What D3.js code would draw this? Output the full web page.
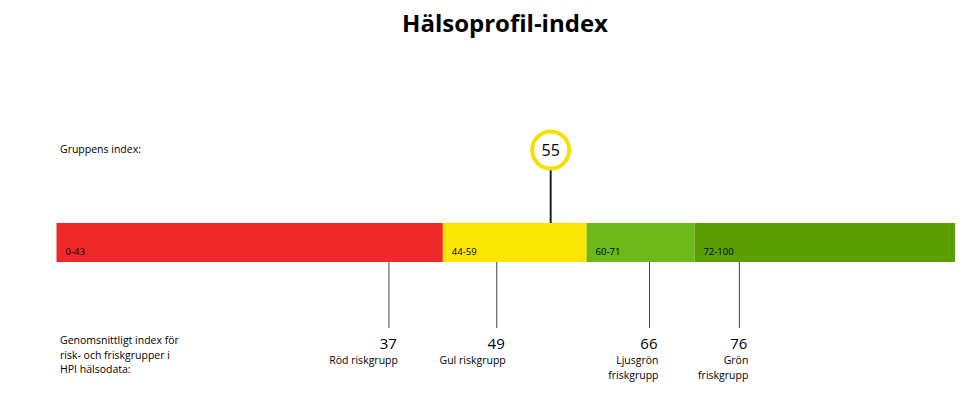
<!DOCTYPE html>
<html><head><meta charset="utf-8">
<script src="https://cdn.jsdelivr.net/npm/d3@7"></script>
<style>body{margin:0;background:#fff}svg{display:block}text{font-family:"Open Sans","Noto Sans",sans-serif}</style>
</head><body>
<svg id="c" width="962" height="401"></svg>
<script>
const title = "Hälsoprofil-index";
const segStarts = [0, 43, 59, 71];
const segEnds = [43, 59, 71, 100];
const segLabels = ["0-43", "44-59", "60-71", "72-100"];
const segColors = ["#EF2929", "#FAE600", "#6BB816", "#5B9E00"];
const groupIndex = 55;
const groupLabel = "Gruppens index:";
const avgValues = [37, 49, 66, 76];
const avgNames = [["Röd riskgrupp"], ["Gul riskgrupp"], ["Ljusgrön", "friskgrupp"], ["Grön", "friskgrupp"]];
const avgLabel = ["Genomsnittligt index för", "risk- och friskgrupper i", "HPI hälsodata:"];

const svg = d3.select("#c");
const x = d3.scaleLinear().domain([0, 100]).range([56.5, 955]);
const barTop = 223, barH = 39;

svg.append("text").attr("x", 505).attr("y", 32).attr("text-anchor", "middle")
  .attr("font-size", 24).attr("font-weight", "bold").attr("fill", "#000").text(title);

svg.append("text").attr("x", 60).attr("y", 153).attr("font-size", 10.5).attr("fill", "#000").text(groupLabel);

svg.selectAll("rect.seg").data(segStarts).join("rect").attr("class", "seg")
  .attr("x", (d) => x(d)).attr("y", barTop)
  .attr("width", (d, i) => x(segEnds[i]) - x(d)).attr("height", barH)
  .attr("fill", (d, i) => segColors[i]);

svg.selectAll("text.seg").data(segStarts).join("text").attr("class", "seg")
  .attr("x", (d) => x(d) + 9).attr("y", 255).attr("font-size", 9.5).attr("fill", "#000")
  .text((d, i) => segLabels[i]);

// group marker
const gx = x(groupIndex);
svg.append("line").attr("x1", gx).attr("x2", gx).attr("y1", 170).attr("y2", barTop)
  .attr("stroke", "#222").attr("stroke-width", 2);
svg.append("circle").attr("cx", gx).attr("cy", 150).attr("r", 18.5)
  .attr("fill", "#fff").attr("stroke", "#F5E000").attr("stroke-width", 4);
svg.append("text").attr("x", gx).attr("y", 156).attr("text-anchor", "middle")
  .attr("font-size", 16).attr("fill", "#000").text(groupIndex);

// averages
const g = svg.selectAll("g.avg").data(avgValues).join("g").attr("class", "avg");
g.append("line").attr("x1", (d) => x(d)).attr("x2", (d) => x(d))
  .attr("y1", barTop + barH).attr("y2", 328).attr("stroke", "#444").attr("stroke-width", 1);
g.append("text").attr("x", (d) => x(d) + 8).attr("y", 348.5).attr("text-anchor", "end")
  .attr("font-size", 15).attr("fill", "#000").text((d) => d);
g.each(function (d, i) {
  avgNames[i].forEach((t, j) => {
    d3.select(this).append("text").attr("x", x(d) + 9).attr("y", 364 + j * 14.5)
      .attr("text-anchor", "end").attr("font-size", 10.5).attr("fill", "#000").text(t);
  });
});

avgLabel.forEach((t, j) => {
  svg.append("text").attr("x", 60).attr("y", 344 + j * 14.5).attr("font-size", 10.5)
    .attr("fill", "#000").text(t);
});
</script>
</body></html>
